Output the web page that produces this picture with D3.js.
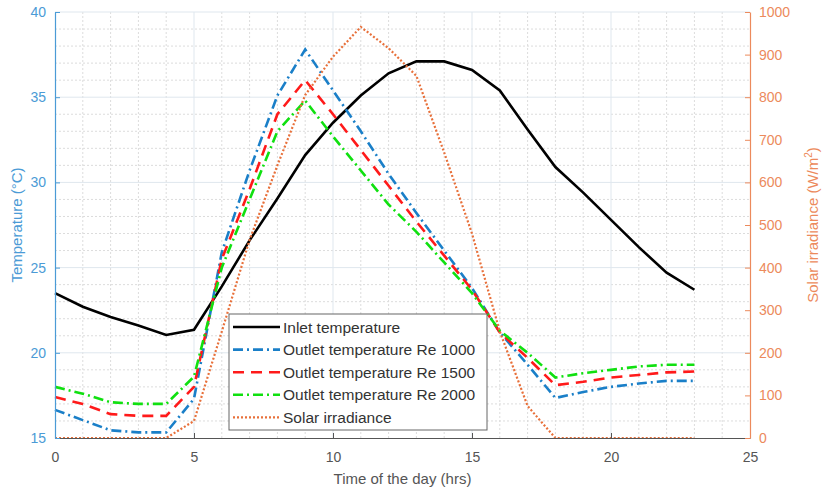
<!DOCTYPE html>
<html lang="en">
<head>
<meta charset="UTF-8">
<title>Temperature and solar irradiance</title>
<script src="https://d3js.org/d3.v7.min.js"></script>
<style>
    body { margin: 0; background: #fff; }
    text { font-family: "Liberation Sans", Arial, sans-serif; }
</style>
</head>
<body>
<svg width="825" height="492"></svg>
<script>
// hours of the day
const hours = d3.range(0, 24);

// series
const inletTemp = [23.5, 22.7, 22.1, 21.6, 21.05, 21.35, 23.9, 26.6, 29.05, 31.6, 33.5, 35.1,
                   36.4, 37.1, 37.1, 36.6, 35.4, 33.1, 30.9, 29.4, 27.8, 26.2, 24.7, 23.7];
const outletRe1000 = [16.65, 16.05, 15.45, 15.33, 15.33, 17.3, 25.9, 30.7, 35.1, 37.8, 35.4, 33.0,
                      30.5, 28.2, 26.0, 23.8, 21.2, 19.3, 17.35, 17.7, 18.0, 18.2, 18.35, 18.35];
const outletRe1500 = [17.4, 17.0, 16.4, 16.3, 16.3, 18.0, 25.5, 29.6, 34.0, 36.0, 34.0, 31.9,
                      29.8, 27.7, 25.7, 23.7, 21.2, 19.7, 18.1, 18.3, 18.55, 18.7, 18.85, 18.9];
const outletRe2000 = [18.0, 17.6, 17.1, 17.0, 17.0, 18.6, 25.0, 29.0, 33.0, 34.8, 32.7, 30.7,
                      28.7, 27.1, 25.3, 23.5, 21.3, 20.0, 18.55, 18.8, 19.0, 19.2, 19.3, 19.3];
const solarIrr = [0, 0, 0, 0, 0, 40, 250, 465, 640, 805, 895, 965,
                  915, 850, 670, 480, 250, 75, 0, 0, 0, 0, 0, 0];

const xTicks = [0, 5, 10, 15, 20, 25];
const tempTicks = [15, 20, 25, 30, 35, 40];
const irrTicks = [0, 100, 200, 300, 400, 500, 600, 700, 800, 900, 1000];

const legendNames = ["Inlet temperature", "Outlet temperature Re 1000", "Outlet temperature Re 1500",
                     "Outlet temperature Re 2000", "Solar irradiance"];

const leftColor = "#4b9bd6";
const rightColor = "#ec8a5c";

const svg = d3.select("svg");
const plotL = 55, plotR = 750, plotT = 12, plotB = 438;

const x = d3.scaleLinear().domain([0, 25]).range([plotL, plotR]);
const yT = d3.scaleLinear().domain([15, 40]).range([plotB, plotT]);
const yI = d3.scaleLinear().domain([0, 1000]).range([plotB, plotT]);

// minor grid (dotted)
const grid = svg.append("g");
grid.selectAll(".mx").data(d3.range(1, 25).filter(d => d % 5 !== 0)).enter().append("line")
    .attr("x1", d => x(d)).attr("x2", d => x(d)).attr("y1", plotT).attr("y2", plotB)
    .attr("stroke", "#dcdcdc").attr("stroke-width", 1).attr("stroke-dasharray", "2,2");
grid.selectAll(".my").data(d3.range(16, 40).filter(d => d % 5 !== 0)).enter().append("line")
    .attr("x1", plotL).attr("x2", plotR).attr("y1", d => yT(d)).attr("y2", d => yT(d))
    .attr("stroke", "#dcdcdc").attr("stroke-width", 1).attr("stroke-dasharray", "2,2");
// major grid
grid.selectAll(".gx").data(xTicks.slice(1, -1)).enter().append("line")
    .attr("x1", d => x(d)).attr("x2", d => x(d)).attr("y1", plotT).attr("y2", plotB)
    .attr("stroke", "#dfe7ee").attr("stroke-width", 1);
grid.selectAll(".gy").data(tempTicks.slice(1)).enter().append("line")
    .attr("x1", plotL).attr("x2", plotR).attr("y1", d => yT(d)).attr("y2", d => yT(d))
    .attr("stroke", "#dfe7ee").attr("stroke-width", 1);

// series
const lineT = d3.line().x((d, i) => x(hours[i])).y(d => yT(d));
const lineI = d3.line().x((d, i) => x(hours[i])).y(d => yI(d));

const series = [
    { data: inletTemp, gen: lineT, color: "#000000", dash: null },
    { data: outletRe1000, gen: lineT, color: "#1a7fc8", dash: "10,4,2,4" },
    { data: outletRe1500, gen: lineT, color: "#ff1a1a", dash: "11,7" },
    { data: outletRe2000, gen: lineT, color: "#10e010", dash: "10,4,2,4" },
    { data: solarIrr, gen: lineI, color: "#e8703a", dash: "2,2" }
];

svg.append("g").selectAll("path").data(series).enter().append("path")
    .attr("d", s => s.gen(s.data))
    .attr("fill", "none")
    .attr("stroke", s => s.color)
    .attr("stroke-width", s => s.dash === "2,2" ? 2.2 : 2.6)
    .attr("stroke-dasharray", s => s.dash);

// axes
const xAxis = svg.append("g").attr("transform", `translate(0,${plotB})`)
    .call(d3.axisBottom(x).tickValues(xTicks).tickSizeInner(-5).tickSizeOuter(0).tickPadding(14));
xAxis.select(".domain").attr("stroke", "#555").attr("stroke-width", 1.2);
xAxis.selectAll(".tick line").attr("stroke", "#555");
xAxis.selectAll("text").attr("fill", "#555").attr("font-size", 14);

const yAxisL = svg.append("g").attr("transform", `translate(${plotL},0)`)
    .call(d3.axisLeft(yT).tickValues(tempTicks).tickSizeInner(-5).tickSizeOuter(0).tickPadding(9));
yAxisL.select(".domain").attr("stroke", leftColor).attr("stroke-width", 1.2);
yAxisL.selectAll(".tick line").attr("stroke", leftColor);
yAxisL.selectAll("text").attr("fill", leftColor).attr("font-size", 14);

const yAxisR = svg.append("g").attr("transform", `translate(${plotR},0)`)
    .call(d3.axisRight(yI).tickValues(irrTicks).tickFormat(d3.format("d"))
        .tickSizeInner(-5).tickSizeOuter(0).tickPadding(9));
yAxisR.select(".domain").attr("stroke", rightColor).attr("stroke-width", 1.2);
yAxisR.selectAll(".tick line").attr("stroke", rightColor);
yAxisR.selectAll("text").attr("fill", rightColor).attr("font-size", 14);

// axis titles
svg.append("text").attr("x", (plotL + plotR) / 2).attr("y", 484)
    .attr("text-anchor", "middle").attr("font-size", 15).attr("fill", "#555")
    .text("Time of the day (hrs)");
svg.append("text").attr("transform", `translate(22,${(plotT + plotB) / 2}) rotate(-90)`)
    .attr("text-anchor", "middle").attr("font-size", 15).attr("fill", leftColor)
    .text("Temperature (°C)");
const rt = svg.append("text").attr("transform", `translate(818,${(plotT + plotB) / 2}) rotate(-90)`)
    .attr("text-anchor", "middle").attr("font-size", 15).attr("fill", rightColor);
rt.append("tspan").text("Solar irradiance (W/m");
rt.append("tspan").attr("dy", -6).attr("font-size", 10).text("2");
rt.append("tspan").attr("dy", 6).text(")");

// legend
const lg = svg.append("g").attr("transform", "translate(229,314)");
lg.append("rect").attr("width", 258).attr("height", 116)
    .attr("fill", "#fff").attr("stroke", "#666").attr("stroke-width", 1);
const rows = lg.selectAll(".row").data(series).enter().append("g")
    .attr("transform", (d, i) => `translate(0,${13 + i * 22.6})`);
rows.append("line").attr("x1", 4).attr("x2", 51).attr("y1", 0).attr("y2", 0)
    .attr("stroke", d => d.color).attr("stroke-width", d => d.dash === "2,2" ? 2.2 : 2.6)
    .attr("stroke-dasharray", d => d.dash);
rows.append("text").attr("x", 54).attr("y", 5.5).attr("font-size", 15.5).attr("fill", "#333")
    .text((d, i) => legendNames[i]);
</script>
</body>
</html>
